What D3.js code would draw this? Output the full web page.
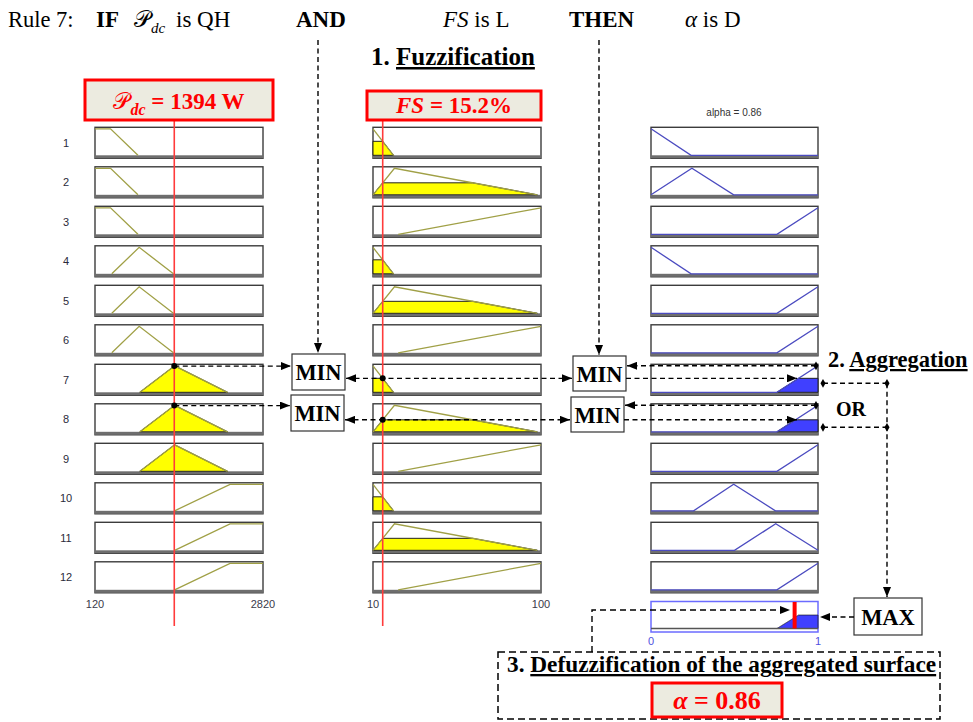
<!DOCTYPE html>
<html><head><meta charset="utf-8">
<script src="https://cdn.jsdelivr.net/npm/d3@7"></script>
<style>body{margin:0;background:#fff}svg{display:block}</style>
</head><body>
<svg id="c" width="973" height="722"></svg>
<script>
// ---------------- DATA ----------------
const ruleNumbers = [1,2,3,4,5,6,7,8,9,10,11,12];
const pdcRange = [120, 2820];
const fsRange = [10, 100];
const alphaRange = [0, 1];
const pdcTickLabels = ["120", "2820"];
const fsTickLabels = ["10", "100"];
const alphaTickLabels = ["0", "1"];
// trapezoid membership functions [a, b, c, d] per rule
const pdcMF = [
  [120,120,370,810],[120,120,370,810],[120,120,370,810],
  [390,830,830,1380],[390,830,830,1380],[390,830,830,1380],
  [840,1400,1400,2250],[840,1400,1400,2250],[840,1400,1400,2250],
  [1400,2290,2820,2820],[1400,2290,2820,2820],[1400,2290,2820,2820]
];
const fsMF = [
  [10,10,10,21],[10,21.5,21.5,98],[23.5,100,100,100],
  [10,10,10,21],[10,21.5,21.5,98],[23.5,100,100,100],
  [10,10,10,21],[10,21.5,21.5,98],[23.5,100,100,100],
  [10,10,10,21],[10,21.5,21.5,98],[23.5,100,100,100]
];
const alphaVS = [0,0,0,0.24], alphaS = [0,0.245,0.245,0.495], alphaM = [0.255,0.495,0.495,0.745],
      alphaB = [0.5,0.747,0.747,1], alphaD = [0.754,1,1,1];
const alphaMF = [alphaVS, alphaS, alphaD, alphaVS, alphaD, alphaD, alphaD, alphaD, alphaD, alphaM, alphaB, alphaD];
const pdcInput = 1394;
const fsInput = 15.2;
const alphaOutput = 0.86;

// ---------------- HELPERS ----------------
const svg = d3.select("#c");
const serif = "'Liberation Serif','Times New Roman',serif";
const sans = "'Liberation Sans',Arial,sans-serif";
function trap(x, p) {
  const [a,b,c,d] = p;
  if (x < a || x > d) return 0;
  if (x >= b && x <= c) return 1;
  if (x < b) return (x - a) / (b - a);
  return (d - x) / (d - c);
}
const defs = svg.append("defs");
defs.append("marker").attr("id","ah").attr("viewBox","0 0 10 8").attr("refX",10).attr("refY",4)
  .attr("markerWidth",10).attr("markerHeight",8).attr("markerUnits","userSpaceOnUse")
  .attr("orient","auto-start-reverse").append("path").attr("d","M0,0L10,4L0,8Z").attr("fill","#000");

function dline(pts, start, end, dash) {
  const p = svg.append("path").attr("d", d3.line()(pts)).attr("fill","none")
    .attr("stroke","#000").attr("stroke-width",1.4).attr("stroke-dasharray", dash || "5,3.5");
  if (start) p.attr("marker-start","url(#ah)");
  if (end) p.attr("marker-end","url(#ah)");
  return p;
}
function dot(x, y) { svg.append("circle").attr("cx",x).attr("cy",y).attr("r",3).attr("fill","#000"); }
function diamond(x, y) {
  svg.append("path").attr("d", d3.symbol(d3.symbolDiamond, 22)()).attr("transform",`translate(${x},${y})`).attr("fill","#000");
}

const cols = [
  {range: pdcRange, mf: pdcMF, px: [95, 263], input: pdcInput, line: "#a0a046", kind: "in", ticks: pdcTickLabels},
  {range: fsRange, mf: fsMF, px: [373, 541], input: fsInput, line: "#a0a046", kind: "in", ticks: fsTickLabels},
  {range: alphaRange, mf: alphaMF, px: [651, 818], kind: "out", line: "#4b4bc0", ticks: alphaTickLabels}
];
cols.forEach(c => c.x = d3.scaleLinear().domain(c.range).range(c.px));
const rowTop = i => 127.3 + i * 39.5;
const boxH = 31;
const yScale = i => d3.scaleLinear().domain([0,1]).range([rowTop(i) + 28, rowTop(i) + 1.5]);

// membership degrees and firing strengths
const pdcMu = pdcMF.map(p => trap(pdcInput, p));
const fsMu = fsMF.map(p => trap(fsInput, p));
const firing = ruleNumbers.map((r, i) => Math.min(pdcMu[i], fsMu[i]));

function clipPoly(p, h) {
  const [a,b,c,d] = p;
  return [[a,0],[a + h*(b-a), h],[d - h*(d-c), h],[d,0]];
}
function mfPoints(p, c) {
  const [a,b,cc,d] = p;
  const pts = [];
  if (a < b) pts.push([a,0]);
  pts.push([b,1]);
  if (cc > b) pts.push([cc,1]);
  if (d > cc) pts.push([d,0]);
  if (c.kind === "out") {
    if (a < b && a > c.range[0]) pts.unshift([c.range[0],0]);
    if (d > cc && d < c.range[1]) pts.push([c.range[1],0]);
  }
  return pts;
}

// rule boxes
ruleNumbers.forEach((r, i) => {
  const T = rowTop(i), y = yScale(i);
  svg.append("text").attr("x",66).attr("y",T + 19.5).attr("text-anchor","middle")
    .attr("font-family",sans).attr("font-size",11).attr("fill","#2a2a3a").text(r);
  cols.forEach((c, ci) => {
    const [x0, x1] = c.px;
    svg.append("rect").attr("x",x0).attr("y",T).attr("width",x1-x0).attr("height",boxH)
      .attr("fill","#fff").attr("stroke","#3c3c3c").attr("stroke-width",1.4);
    svg.append("rect").attr("x",x0).attr("y",T+28).attr("width",x1-x0).attr("height",3).attr("fill","#6e6e6e");
    const p = c.mf[i];
    const level = c.kind === "in" ? (ci === 0 ? pdcMu[i] : fsMu[i]) : firing[i];
    const fillCol = c.kind === "in" ? "#ffff00" : "#4040ff";
    const lineGen = d3.line().x(d => c.x(d[0])).y(d => y(d[1]));
    if (level > 0) {
      svg.append("path").attr("d", lineGen(clipPoly(p, level)) + "Z").attr("fill", fillCol)
        .attr("stroke","#222").attr("stroke-width",1);
    }
    svg.append("path").attr("d", lineGen(mfPoints(p, c))).attr("fill","none").attr("stroke",c.line).attr("stroke-width",1.3);
  });
});

// axis labels
[cols[0], cols[1]].forEach(c => {
  c.range.forEach((v, k) => svg.append("text").attr("x", c.x(v)).attr("y", 608).attr("text-anchor","middle")
    .attr("font-family",sans).attr("font-size",11).attr("fill","#3a3a4a").text(c.ticks[k]));
});

// red vertical input lines
svg.append("line").attr("x1",cols[0].x(pdcInput)).attr("x2",cols[0].x(pdcInput)).attr("y1",121).attr("y2",626)
  .attr("stroke","#ff3b3b").attr("stroke-width",1.6);
svg.append("line").attr("x1",cols[1].x(fsInput)).attr("x2",cols[1].x(fsInput)).attr("y1",120).attr("y2",626)
  .attr("stroke","#ff3b3b").attr("stroke-width",1.6);

// aggregated output
{
  const c = cols[2];
  const ya = d3.scaleLinear().domain([0,1]).range([628.5, 603]);
  svg.append("rect").attr("x",651).attr("y",601.5).attr("width",167).attr("height",30.5)
    .attr("fill","#fff").attr("stroke","#6b6bff").attr("stroke-width",1.5);
  const xs = d3.range(0, 1001).map(k => k / 1000);
  const agg = xs.map(x => [x, d3.max(ruleNumbers.map((r,i) => Math.min(firing[i], trap(x, alphaMF[i]))))]);
  svg.append("path").attr("d", d3.area().x(d => c.x(d[0])).y0(ya(0)).y1(d => ya(d[1]))(agg))
    .attr("fill","#4040ff").attr("stroke","#222").attr("stroke-width",0.8);
  svg.append("line").attr("x1",651).attr("x2",818).attr("y1",628.5).attr("y2",628.5).attr("stroke","#555").attr("stroke-width",1.5);
  svg.append("line").attr("x1",c.x(alphaOutput)).attr("x2",c.x(alphaOutput)).attr("y1",602).attr("y2",628.5)
    .attr("stroke","#ff0000").attr("stroke-width",4);
  c.range.forEach((v,k) => svg.append("text").attr("x", c.x(v)).attr("y", 645).attr("text-anchor","middle")
    .attr("font-family",sans).attr("font-size",11).attr("fill","#5050e0").text(c.ticks[k]));
  svg.append("text").attr("x",734).attr("y",116).attr("text-anchor","middle").attr("font-family",sans)
    .attr("font-size",10).attr("fill","#333").text("alpha = " + alphaOutput.toFixed(2));
}

// ---------------- TITLE ----------------
function txt(x, y, size, parts, anchor) {
  const t = svg.append("text").attr("x",x).attr("y",y).attr("font-family",serif).attr("font-size",size)
    .attr("text-anchor", anchor || "start");
  parts.forEach(p => {
    const s = t.append("tspan").text(p.t);
    if (p.b) s.attr("font-weight","bold");
    if (p.i) s.attr("font-style","italic");
    if (p.fs) s.attr("font-size",p.fs);
    if (p.dy) s.attr("dy",p.dy);
    if (p.fill) s.attr("fill",p.fill);
    if (p.u) s.attr("text-decoration","underline");
  });
  return t;
}
txt(8, 27, 22.5, [{t:"Rule 7:"}]);
txt(96, 27, 23, [{t:"IF", b:1}]);
txt(134, 27, 23, [{t:"𝒫"}, {t:"dc", i:1, fs:15, dy:6}]);
txt(176, 27, 23, [{t:"is QH"}]);
txt(296, 27, 23, [{t:"AND", b:1}]);
txt(443, 27, 23, [{t:"FS", i:1}, {t:" is L"}]);
txt(569, 27, 23, [{t:"THEN", b:1}]);
txt(685, 27, 23, [{t:"α", i:1}, {t:" is D"}]);
txt(371, 65, 25, [{t:"1. ", b:1}, {t:"Fuzzification", b:1, u:1}]);

// input value boxes
svg.append("rect").attr("x",85).attr("y",80).attr("width",188).attr("height",40)
  .attr("fill","#ecebe0").attr("stroke","#ff0000").attr("stroke-width",3);
txt(179, 109, 23, [{t:"𝒫", fill:"#ff0000"}, {t:"dc", b:1, i:1, fs:16, dy:6, fill:"#ff0000"}, {t:" = " + pdcInput + " W", b:1, dy:-6, fill:"#ff0000"}], "middle");
svg.append("rect").attr("x",367).attr("y",91).attr("width",174).attr("height",29)
  .attr("fill","#ecebe0").attr("stroke","#ff0000").attr("stroke-width",3);
txt(454, 113, 23, [{t:"FS", b:1, i:1, fill:"#ff0000"}, {t:" = " + fsInput + "%", b:1, fill:"#ff0000"}], "middle");

// MIN / MAX boxes
function opBox(x, y, w, h, label) {
  svg.append("rect").attr("x",x).attr("y",y).attr("width",w).attr("height",h).attr("fill","#fff")
    .attr("stroke","#333").attr("stroke-width",1.2);
  txt(x + w/2, y + h/2 + 8, 22.5, [{t:label, b:1}], "middle");
}
opBox(292, 354, 53, 36, "MIN");
opBox(291, 395, 53, 36, "MIN");
opBox(573, 356, 53, 35, "MIN");
opBox(571, 397, 53, 35, "MIN");
opBox(854, 598, 68, 37, "MAX");

// ---------------- CONNECTORS ----------------
dline([[318, 40],[318, 353]], false, true);
dline([[599, 40],[599, 355]], false, true);

const xP = cols[0].x(pdcInput), xF = cols[1].x(fsInput);
[6, 7].forEach((i, k) => {
  const y = yScale(i);
  const yl = y(pdcMu[i]);
  const minL = k === 0 ? [292, 345] : [291, 344];
  const minR = k === 0 ? [573, 626] : [571, 624];
  dline([[xP, yl],[minL[0] - 1, yl]], false, true); dot(xP, yl);
  const yf = y(fsMu[i]);
  dline([[minL[1] + 1, yf],[minR[0] - 1, yf]], true, true); dot(xF, yf);
  const yt = y(1), xt = cols[2].x(1) - 2;
  dline([[xt, yt],[minR[1] + 1, yt]], false, true); diamond(xt, yt);
  const yr = y(firing[i]);
  dline([[minR[1], yr],[797, yr]], false, true);
});
// aggregation
const ya1 = rowTop(6) + 19, ya2 = rowTop(7) + 23.5;
dline([[823, ya1],[887, ya1]]); diamond(823, ya1); diamond(887, ya1);
dline([[823, ya2],[887, ya2]]); diamond(823, ya2); diamond(887, ya2);
dline([[887, ya1],[887, 597]], false, true);
dline([[854, 617],[820, 617]], false, true);
txt(828, 367, 22.5, [{t:"2. ", b:1}, {t:"Aggregation", b:1, u:1}]);
txt(836, 416, 20, [{t:"OR", b:1}]);

// defuzzification
dline([[592, 652],[592, 610],[790, 610]], false, true, "6,4");
svg.append("rect").attr("x",498).attr("y",652).attr("width",442).attr("height",67).attr("fill","none")
  .attr("stroke","#000").attr("stroke-width",1.5).attr("stroke-dasharray","7,4");
txt(507, 672, 23.3, [{t:"3. ", b:1}, {t:"Defuzzification of the aggregated surface", b:1, u:1}]);
svg.append("rect").attr("x",652).attr("y",683).attr("width",130).attr("height",34)
  .attr("fill","#ecebe0").attr("stroke","#ff0000").attr("stroke-width",3);
txt(717, 709, 26, [{t:"α", b:1, i:1, fill:"#ff0000"}, {t:" = " + alphaOutput.toFixed(2), b:1, fill:"#ff0000"}], "middle");
</script>
</body></html>
